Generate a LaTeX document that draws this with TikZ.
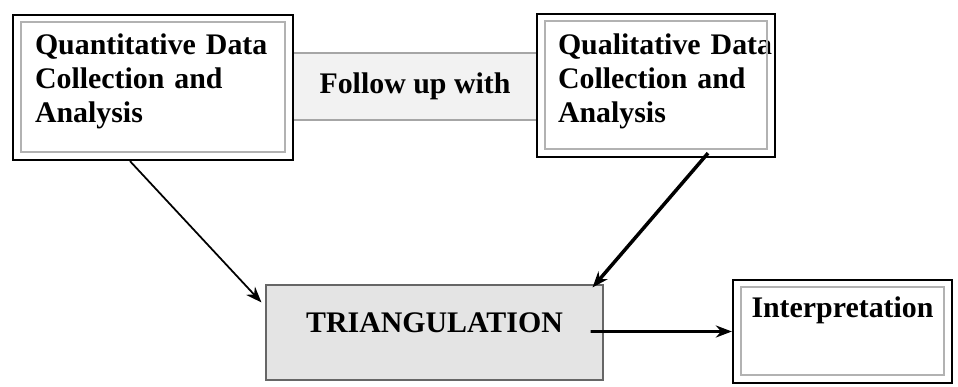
\documentclass[tikz,border=0pt]{standalone}
\usepackage{fontspec}
\setmainfont{Liberation Serif}
\usetikzlibrary{arrows.meta}

\tikzset{
  lbl/.style={font=\bfseries\fontsize{17}{19.3}\selectfont},
  dblbox/.style={lbl, draw=black, line width=1.3pt, fill=white, rectangle, align=left, inner ysep=0.2cm},
  greybox/.style={lbl, draw=gray!70, line width=0.6pt, rectangle, align=center},
  link/.style={-{Stealth[length=0.32cm,width=0.24cm]}, black}
}

\begin{document}
\begin{tikzpicture}
\useasboundingbox (0,0) rectangle (19.16,-7.74);

% the link box sits behind the two data boxes
\node[greybox, fill=gray!10, minimum width=4.88cm, minimum height=1.34cm] (follow) at (8.3,-1.73) {Follow up with};

\node[dblbox, inner xsep=0.44cm, text width=4.72cm, text height=0.6cm, text depth=1.9cm] (quant) at (3.06,-1.75)
  {Quantitative~Data\\Collection and\\Analysis};
\node[dblbox, inner xsep=0.42cm, text width=3.92cm, text height=0.62cm, text depth=1.84cm] (qual) at (13.12,-1.71)
  {Qualitative~Data\\Collection and\\Analysis};

\node[greybox, draw=gray!80!black, fill=gray!21, minimum width=6.74cm, inner ysep=0.2cm,
      text height=0.76cm, text depth=0.74cm] (tri) at (8.69,-6.65) {TRIANGULATION};
\node[dblbox, align=center, minimum width=4.38cm,
      text height=0.56cm, text depth=1.1cm] (interp) at (16.85,-6.63) {Interpretation};

% inner frames
\foreach \n in {quant, qual, interp}{
  \draw[gray!60, line width=0.8pt] ([shift={(0.18cm,-0.16cm)}]\n.north west) rectangle ([shift={(-0.18cm,0.18cm)}]\n.south east);
}

% connectors
\draw[link, line width=1pt] ([xshift=-0.46cm]quant.south) -- ([shift={(-0.08cm,-0.36cm)}]tri.north west);
\draw[link, line width=2pt] ([shift={(1.04cm,0.1cm)}]qual.south) -- ([shift={(-0.22cm,-0.06cm)}]tri.north east);
\draw[link, line width=1.6pt] ([shift={(-0.26cm,0.02cm)}]tri.east) -- (interp.west);
\end{tikzpicture}
\end{document}
